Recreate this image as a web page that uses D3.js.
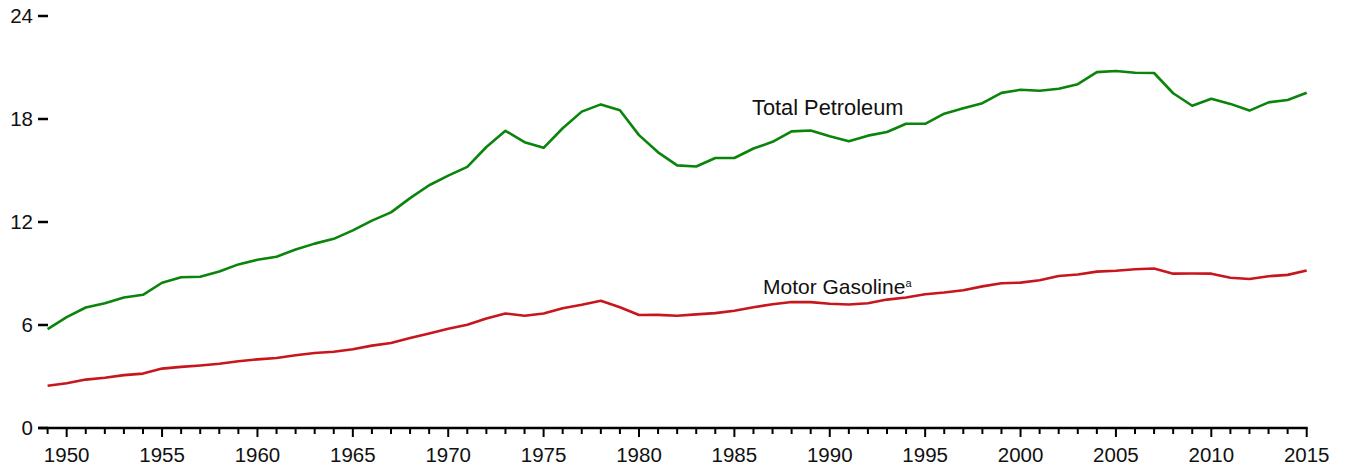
<!DOCTYPE html>
<html><head><meta charset="utf-8">
<script src="https://cdn.jsdelivr.net/npm/d3@7"></script>
<style>body{margin:0;background:#fff}svg{display:block}text{font-family:"Liberation Sans",Arial,sans-serif;fill:#111}</style>
</head><body><svg id="c" width="1349" height="470"></svg>
<script>
const years = d3.range(1949, 2016);
const totalPetroleum = [5.76,6.46,7.02,7.27,7.60,7.76,8.46,8.78,8.81,9.12,9.53,9.80,9.98,10.40,10.74,11.02,11.51,12.08,12.56,13.39,14.14,14.70,15.21,16.37,17.31,16.65,16.32,17.46,18.43,18.85,18.51,17.06,16.06,15.30,15.23,15.73,15.73,16.28,16.67,17.28,17.33,16.99,16.71,17.03,17.24,17.72,17.72,18.31,18.62,18.92,19.52,19.70,19.65,19.76,20.03,20.73,20.80,20.69,20.68,19.50,18.77,19.18,18.88,18.49,18.97,19.11,19.53];
const motorGasoline = [2.46,2.61,2.82,2.93,3.08,3.17,3.46,3.56,3.64,3.74,3.89,4.00,4.08,4.24,4.37,4.44,4.59,4.80,4.95,5.24,5.51,5.78,6.01,6.38,6.67,6.54,6.67,6.98,7.18,7.41,7.03,6.58,6.59,6.54,6.62,6.69,6.83,7.03,7.21,7.34,7.33,7.24,7.19,7.27,7.48,7.60,7.79,7.89,8.02,8.25,8.43,8.47,8.61,8.85,8.94,9.11,9.16,9.25,9.29,8.99,9.00,8.99,8.75,8.68,8.84,8.92,9.18];
const yTicks = [0,6,12,18,24];
const xMajorTicks = [1950,1955,1960,1965,1970,1975,1980,1985,1990,1995,2000,2005,2010,2015];

const svg = d3.select("#c");
const x = d3.scaleLinear().domain([1949,2015]).range([47.6,1306.7]);
const y = d3.scaleLinear().domain([0,24]).range([428,16]);

const ya = svg.append("g");
yTicks.forEach(v=>{
  ya.append("line").attr("x1",38).attr("x2",48).attr("y1",y(v)).attr("y2",y(v)).attr("stroke","#000").attr("stroke-width",2.5);
  ya.append("text").attr("x",33).attr("y",y(v)).attr("dy","0.36em").attr("text-anchor","end").attr("font-size",20.5).text(v);
});

const xa = svg.append("g");
xa.append("line").attr("x1",38).attr("x2",x(2015)+1).attr("y1",428).attr("y2",428).attr("stroke","#000").attr("stroke-width",2.5);
years.forEach(yr=>{
  const major = xMajorTicks.includes(yr);
  xa.append("line").attr("x1",x(yr)).attr("x2",x(yr)).attr("y1",428).attr("y2",major?437:434).attr("stroke","#000").attr("stroke-width",2);
});
xMajorTicks.forEach(yr=>{
  xa.append("text").attr("x",x(yr)).attr("y",462).attr("text-anchor","middle").attr("font-size",20.5).text(yr);
});

const line = d3.line().x((d,i)=>x(years[i])).y(d=>y(d));
svg.append("path").datum(motorGasoline).attr("d",line).attr("fill","none").attr("stroke","#c8161d").attr("stroke-width",2.6).attr("stroke-linejoin","round");
svg.append("path").datum(totalPetroleum).attr("d",line).attr("fill","none").attr("stroke","#0a840a").attr("stroke-width",2.6).attr("stroke-linejoin","round");

svg.append("text").attr("x",752).attr("y",115).attr("font-size",21.8).text("Total Petroleum");
const mg = svg.append("text").attr("x",763).attr("y",294).attr("font-size",21).text("Motor Gasoline");
mg.append("tspan").attr("font-size",11).attr("dy",-7).text("a");
</script></body></html>
